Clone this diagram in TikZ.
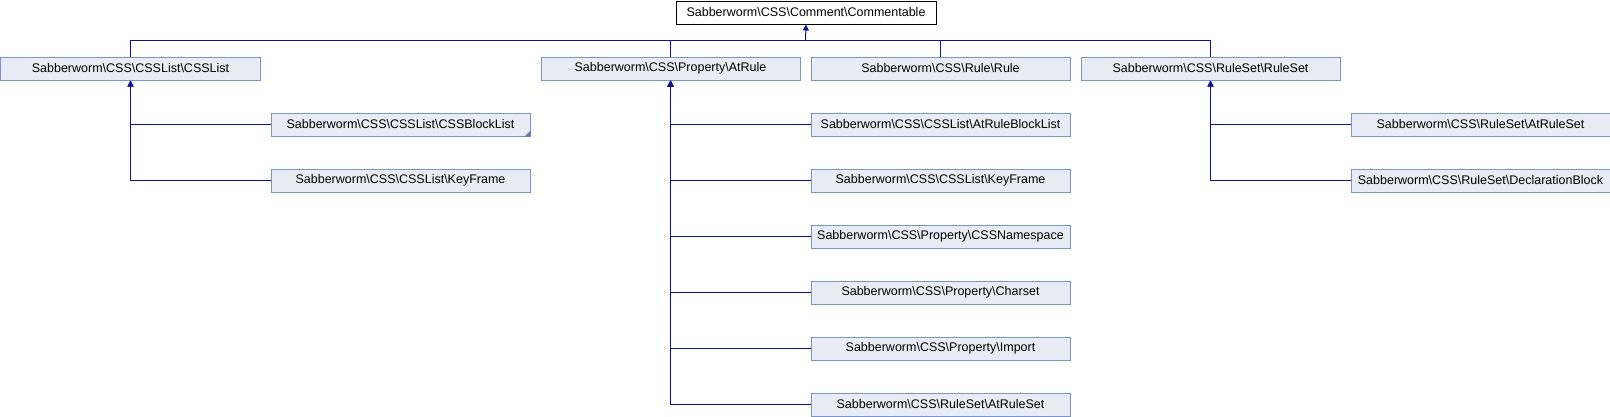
\documentclass[tikz,border=0pt]{standalone}
\usepackage{fontspec}
\setmainfont{Liberation Sans}
\usepackage{tikz}
\usetikzlibrary{arrows.meta}
\definecolor{boxfill}{RGB}{232,236,245}
\definecolor{boxline}{RGB}{124,148,204}
\definecolor{edgeclr}{RGB}{16,16,150}
\definecolor{cornerclr}{RGB}{104,126,184}
\newcommand {\bsl} {\textbackslash}
\newcommand {\sw} {Sabberworm\bsl CSS\bsl}
\newcommand {\kls}[4] {\node[clsbox, anchor=north west] (#1) at (#2,#3) {#4};}
\newcommand {\inh}[2] {\draw[edge, {Triangle[width=6pt,length=6pt]}-] (#1.south) |- (#2.west);}

\begin{document}
\begin{tikzpicture}[x=1pt, y=-1pt,
    every node/.style={font=\fontsize{12.5}{14}\selectfont},
    clsbox/.style={draw=boxline, fill=boxfill, line width=1pt, minimum width=259pt,
                   minimum height=23pt, inner sep=0pt},
    edge/.style={draw=edgeclr, line width=1pt}]
        \useasboundingbox (-0.5,-0.5) rectangle (1609.5,415.5);
        % base class
        \node[draw=black, fill=white, line width=1pt, minimum width=260pt, minimum height=23pt,
              inner sep=0pt, anchor=north west] (comm) at (675,0) {\sw Comment\bsl Commentable};
        % first level
        \kls{csslist}{0}{56}{\sw CSSList\bsl CSSList}
        \kls{atrule}{540}{56}{\sw Property\bsl AtRule}
        \kls{rule}{810}{56}{\sw Rule\bsl Rule}
        \kls{ruleset}{1080}{56}{\sw RuleSet\bsl RuleSet}
        % second level
        \kls{blocklist}{270}{112}{\sw CSSList\bsl CSSBlockList}
        \kls{keyframe}{270}{168}{\sw CSSList\bsl KeyFrame}
        \kls{atruleblocklist}{810}{112}{\sw CSSList\bsl AtRuleBlockList}
        \kls{keyframeb}{810}{168}{\sw CSSList\bsl KeyFrame}
        \kls{cssnamespace}{810}{224}{\sw Property\bsl CSSNamespace}
        \kls{charset}{810}{280}{\sw Property\bsl Charset}
        \kls{import}{810}{336}{\sw Property\bsl Import}
        \kls{atruleset}{810}{392}{\sw RuleSet\bsl AtRuleSet}
        \kls{atrulesetb}{1350}{112}{\sw RuleSet\bsl AtRuleSet}
        \kls{declblock}{1350}{168}{\sw RuleSet\bsl DeclarationBlock}
        \fill[cornerclr] (blocklist.south east) -- ++(-6,0) -- ++(6,-6) -- cycle;
        % bus to base class
        \coordinate (bus) at (805,40);
        \draw[edge] (csslist.north) |- (bus) -| (ruleset.north);
        \draw[edge] (atrule.north) |- (bus);
        \draw[edge] (rule.north) |- (bus);
        \draw[edge, -{Triangle[width=6pt,length=6pt]}] (bus) -- (comm.south);
        % derived classes
        \inh{csslist}{blocklist}
        \inh{csslist}{keyframe}
        \inh{atrule}{atruleblocklist}
        \inh{atrule}{keyframeb}
        \inh{atrule}{cssnamespace}
        \inh{atrule}{charset}
        \inh{atrule}{import}
        \inh{atrule}{atruleset}
        \inh{ruleset}{atrulesetb}
        \inh{ruleset}{declblock}
    \end{tikzpicture}
\end{document}
